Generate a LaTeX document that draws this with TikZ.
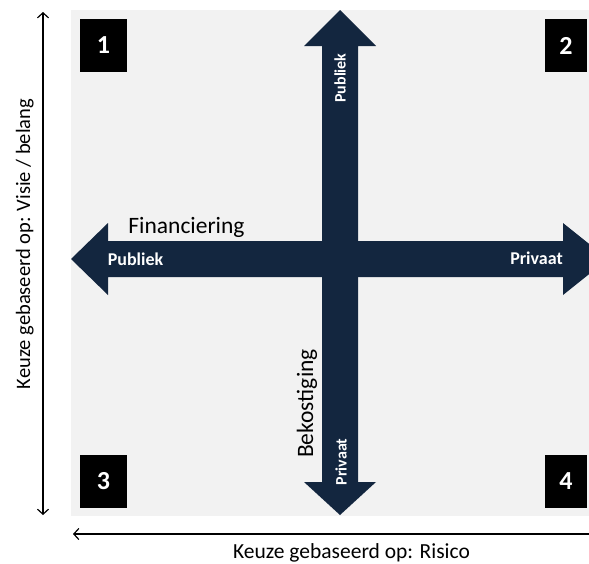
\documentclass[tikz,border=0pt]{standalone}
\usepackage{fontspec}
\setmainfont{Carlito}
\usetikzlibrary{arrows.meta}
\definecolor{donkerblauw}{HTML}{13263F}
\definecolor{vlakgrijs}{HTML}{F2F2F2}
\tikzset{
	nummer/.style={fill=black, text=white, font=\fontsize{26}{26}\selectfont\bfseries,
		minimum width=47pt, minimum height=53pt, inner sep=0pt},
	pijllabel/.style={text=white, font=\fontsize{18}{18}\selectfont\bfseries, inner sep=0pt, anchor=base},
	titel/.style={font=\fontsize{23.5}{23.5}\selectfont, inner sep=0pt, anchor=base},
	aslabel/.style={font=\fontsize{20.5}{20.5}\selectfont, inner sep=0pt, anchor=base},
	aspijl/.style={line width=1.2pt, arrows={Straight Barb[length=5pt,width=11pt]-Straight Barb[length=5pt,width=11pt]}},
}
\begin{document}
\begin{tikzpicture}[x=1pt, y=-1pt]
	\def\xL{71}  % vlak links
	\def\xR{589} % vlak rechts
	\def\yT{10}  % vlak boven
	\def\yB{516} % vlak onder
	\def\xM{340} % midden x
	\def\yM{259} % midden y
	\def\s{18}   % halve schacht
	\def\k{36}   % halve kop
	
	\clip (0,0) rectangle (589,563);
	
	%Vlak
	\fill[vlakgrijs] (\xL,\yT) rectangle (\xR,\yB);
	
	%Bekostiging (verticaal)
	\fill[donkerblauw] (\xM,\yT) -- (\xM+\k,46) -- (\xM+\s,46) -- (\xM+\s,482)
		-- (\xM+\k,482) -- (\xM,\yB-1) -- (\xM-\k,482) -- (\xM-\s,482)
		-- (\xM-\s,46) -- (\xM-\k,46) -- cycle;
	
	%Financiering (horizontaal)
	\fill[donkerblauw] (\xL,\yM) -- (108,\yM-\k) -- (108,\yM-\s) -- (563,\yM-\s)
		-- (563,\yM-\k) -- (608,\yM) -- (563,\yM+\k) -- (563,\yM+\s)
		-- (108,\yM+\s) -- (108,\yM+\k) -- cycle;
	
	%Kwadranten
	\node[nummer] (q1) at (103.5,45.5) {1};
	\node[nummer, minimum width=42pt] (q2) at (566,45.5) {2};
	\node[nummer] (q3) at (103.5,481) {3};
	\node[nummer, minimum width=42pt] (q4) at (566,481.5) {4};
	
	%Labels op de pijlen
	\node[pijllabel] (pubH) at (135.5,265) {Publiek};
	\node[pijllabel] (priH) at (536.5,264.5) {Privaat};
	\node[pijllabel, rotate=90, font=\fontsize{16}{16}\selectfont\bfseries] (pubV) at (345.5,78) {Publiek};
	\node[pijllabel, rotate=90, font=\fontsize{16}{16}\selectfont\bfseries] (priV) at (346.5,462) {Privaat};
	\node[titel] (fin) at (186.5,233) {Financiering};
	\node[titel, rotate=90] (bek) at (313,403.5) {Bekostiging};
	
	%Assen
	\coordinate (vBoven) at (43,12);
	\coordinate (vOnder) at (43,515);
	\draw[aspijl] (vOnder) -- (vBoven);
	\node[aslabel, rotate=90] (visie) at (30,244) {Keuze gebaseerd op: Visie / belang};
	
	\coordinate (hLinks) at (73,534);
	\coordinate (hRechts) at (589,534);
	\draw[line width=1.2pt, -{Straight Barb[length=5pt,width=11pt]}] (hRechts) -- (hLinks);
	\node[aslabel, font=\fontsize{21.5}{21.5}\selectfont] (risico) at (351.5,558) {Keuze gebaseerd op: Risico};
	
\end{tikzpicture}
\end{document}
